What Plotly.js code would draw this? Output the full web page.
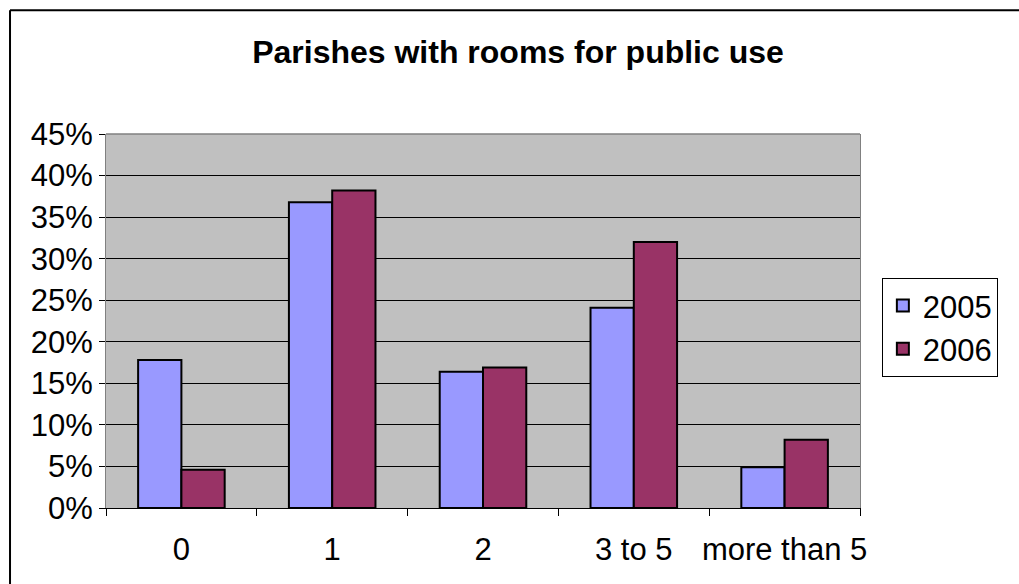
<!DOCTYPE html>
<html>
<head>
<meta charset="utf-8">
<script src="https://cdn.plot.ly/plotly-3.0.1.min.js"></script>
<style>
html,body{margin:0;padding:0;background:#fff;}
#chart{width:1019px;height:584px;}
</style>
</head>
<body>
<div id="chart"></div>
<script>
const categories = ["0", "1", "2", "3 to 5", "more than 5"];
const values2005 = [17.8, 36.8, 16.4, 24.1, 4.9];
const values2006 = [4.6, 38.2, 16.9, 32.0, 8.2];
const seriesNames = ["2005", "2006"];
const chartTitle = "Parishes with rooms for public use";

const FONT = "Liberation Sans, Arial, sans-serif";

const traces = [
  {
    type: "bar", name: seriesNames[0], x: categories, y: values2005,
    marker: {color: "#9999FF", line: {color: "#000000", width: 2}}
  },
  {
    type: "bar", name: seriesNames[1], x: categories, y: values2006,
    marker: {color: "#993366", line: {color: "#000000", width: 2}}
  }
];

const layout = {
  width: 1019, height: 584,
  margin: {l: 106, r: 159, t: 134, b: 75.5, pad: 0},
  paper_bgcolor: "#ffffff",
  plot_bgcolor: "#c0c0c0",
  font: {family: FONT, color: "#000000", size: 31},
  title: {
    text: "<b>" + chartTitle + "</b>",
    font: {family: FONT, size: 32, color: "#000000"},
    xref: "container", yref: "container",
    x: 518 / 1019, xanchor: "center",
    y: 1 - 52 / 584, yanchor: "middle"
  },
  barmode: "group",
  bargap: 0.426,
  bargroupgap: 0,
  showlegend: true,
  legend: {
    x: 1.029, xanchor: "left",
    y: 0.6155, yanchor: "top",
    bgcolor: "#ffffff",
    bordercolor: "#000000", borderwidth: 1,
    font: {family: FONT, size: 31, color: "#000000"},
    itemwidth: 30
  },
  xaxis: {
    type: "category",
    tickangle: 0,
    showgrid: false,
    showline: true, linecolor: "#000000", linewidth: 1,
    ticks: "outside", tickson: "boundaries", ticklen: 7, tickcolor: "#000000", tickwidth: 1,
    ticklabelstandoff: 14,
    tickfont: {family: FONT, size: 31, color: "#000000"},
    fixedrange: true
  },
  yaxis: {
    range: [0, 45],
    dtick: 5, tick0: 0,
    ticksuffix: "%",
    showgrid: true, gridcolor: "#000000", gridwidth: 1,
    zeroline: false,
    showline: true, linecolor: "#808080", linewidth: 1, mirror: true,
    ticks: "outside", ticklen: 6, tickcolor: "#000000", tickwidth: 1,
    tickfont: {family: FONT, size: 31, color: "#000000"},
    fixedrange: true
  },
  shapes: [
    {type: "line", xref: "paper", yref: "paper", x0: 0, x1: 1, y0: 1, y1: 1,
     line: {color: "#808080", width: 1.5}, layer: "above"},
    {type: "line", xref: "paper", yref: "paper", x0: -0.1273, x1: 1.35, y0: 1.3311, y1: 1.3311,
     line: {color: "#000000", width: 2}, layer: "above"},
    {type: "line", xref: "paper", yref: "paper", x0: -0.1273, x1: -0.1273, y0: 1.3311, y1: -0.3,
     line: {color: "#000000", width: 2}, layer: "above"}
  ]
};

Plotly.newPlot("chart", traces, layout, {displayModeBar: false, staticPlot: true});
</script>
</body>
</html>
